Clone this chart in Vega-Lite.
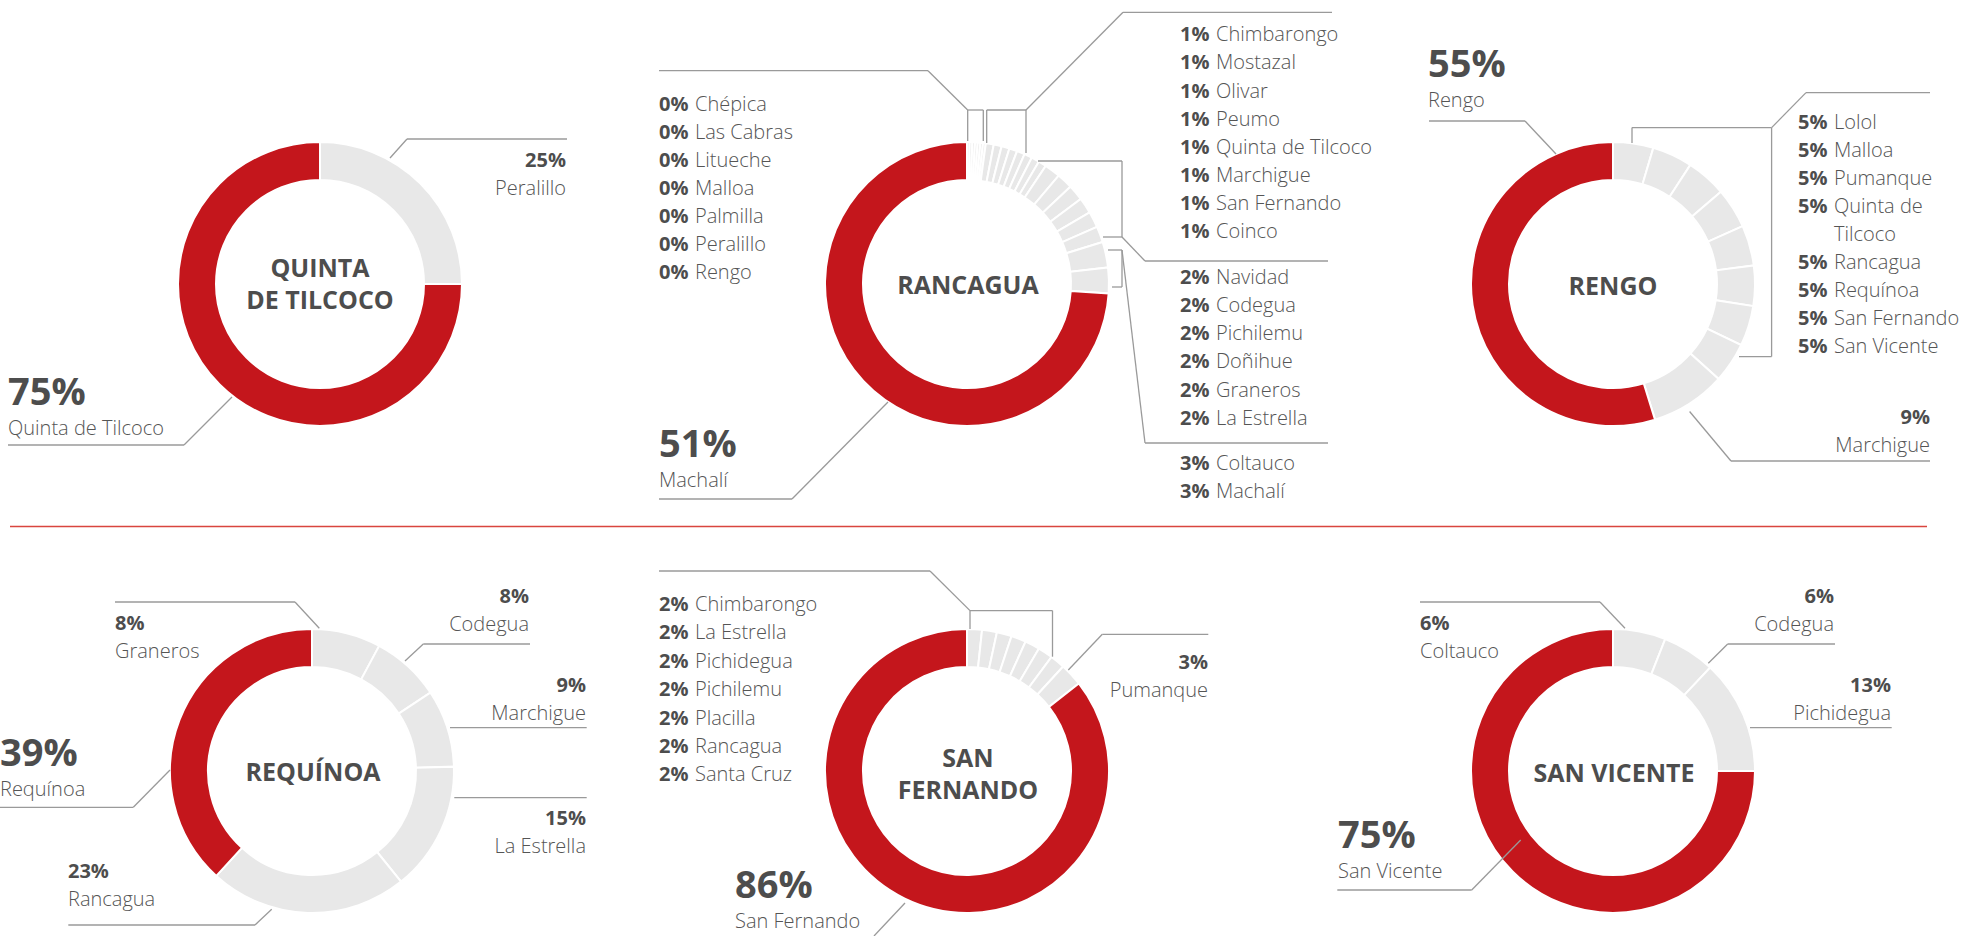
{
  "$schema": "https://vega.github.io/schema/vega-lite/v6.json",
  "width": 1961,
  "height": 936,
  "padding": 0,
  "autosize": {"type": "none"},
  "background": "white",
  "config": {"view": {"stroke": null}},
  "datasets": {
    "centers": [
      {"chart": "Quinta de Tilcoco", "x": 320, "y": 284},
      {"chart": "Rancagua", "x": 967, "y": 284},
      {"chart": "Rengo", "x": 1613, "y": 284},
      {"chart": "Requínoa", "x": 312, "y": 771},
      {"chart": "San Fernando", "x": 967, "y": 771},
      {"chart": "San Vicente", "x": 1613, "y": 771}
    ],
    "slices": [
      {"chart": "Quinta de Tilcoco", "k": 1, "name": "Peralillo", "v": 25, "grp": "other"},
      {"chart": "Quinta de Tilcoco", "k": 2, "name": "Quinta de Tilcoco", "v": 75, "grp": "self"},
      {"chart": "Rancagua", "k": 1, "name": "Chépica", "v": 0.3, "grp": "other"},
      {"chart": "Rancagua", "k": 2, "name": "Las Cabras", "v": 0.3, "grp": "other"},
      {"chart": "Rancagua", "k": 3, "name": "Litueche", "v": 0.3, "grp": "other"},
      {"chart": "Rancagua", "k": 4, "name": "Malloa", "v": 0.3, "grp": "other"},
      {"chart": "Rancagua", "k": 5, "name": "Palmilla", "v": 0.3, "grp": "other"},
      {"chart": "Rancagua", "k": 6, "name": "Peralillo", "v": 0.3, "grp": "other"},
      {"chart": "Rancagua", "k": 7, "name": "Rengo", "v": 0.3, "grp": "other"},
      {"chart": "Rancagua", "k": 8, "name": "Chimbarongo", "v": 0.9, "grp": "other"},
      {"chart": "Rancagua", "k": 9, "name": "Mostazal", "v": 0.9, "grp": "other"},
      {"chart": "Rancagua", "k": 10, "name": "Olivar", "v": 0.9, "grp": "other"},
      {"chart": "Rancagua", "k": 11, "name": "Peumo", "v": 0.9, "grp": "other"},
      {"chart": "Rancagua", "k": 12, "name": "Quinta de Tilcoco", "v": 0.9, "grp": "other"},
      {"chart": "Rancagua", "k": 13, "name": "Marchigue", "v": 0.9, "grp": "other"},
      {"chart": "Rancagua", "k": 14, "name": "San Fernando", "v": 0.9, "grp": "other"},
      {"chart": "Rancagua", "k": 15, "name": "Coinco", "v": 0.9, "grp": "other"},
      {"chart": "Rancagua", "k": 16, "name": "Navidad", "v": 1.8, "grp": "other"},
      {"chart": "Rancagua", "k": 17, "name": "Codegua", "v": 1.8, "grp": "other"},
      {"chart": "Rancagua", "k": 18, "name": "Pichilemu", "v": 1.8, "grp": "other"},
      {"chart": "Rancagua", "k": 19, "name": "Doñihue", "v": 1.8, "grp": "other"},
      {"chart": "Rancagua", "k": 20, "name": "Graneros", "v": 1.8, "grp": "other"},
      {"chart": "Rancagua", "k": 21, "name": "La Estrella", "v": 1.8, "grp": "other"},
      {"chart": "Rancagua", "k": 22, "name": "Coltauco", "v": 2.9, "grp": "other"},
      {"chart": "Rancagua", "k": 23, "name": "Machalí", "v": 2.9, "grp": "other"},
      {"chart": "Rancagua", "k": 24, "name": "Rancagua", "v": 73.5, "grp": "self"},
      {"chart": "Rengo", "k": 1, "name": "Lolol", "v": 4.6, "grp": "other"},
      {"chart": "Rengo", "k": 2, "name": "Malloa", "v": 4.6, "grp": "other"},
      {"chart": "Rengo", "k": 3, "name": "Pumanque", "v": 4.6, "grp": "other"},
      {"chart": "Rengo", "k": 4, "name": "Quinta de Tilcoco", "v": 4.6, "grp": "other"},
      {"chart": "Rengo", "k": 5, "name": "Rancagua", "v": 4.6, "grp": "other"},
      {"chart": "Rengo", "k": 6, "name": "Requínoa", "v": 4.6, "grp": "other"},
      {"chart": "Rengo", "k": 7, "name": "San Fernando", "v": 4.6, "grp": "other"},
      {"chart": "Rengo", "k": 8, "name": "San Vicente", "v": 4.6, "grp": "other"},
      {"chart": "Rengo", "k": 9, "name": "Marchigue", "v": 8.6, "grp": "other"},
      {"chart": "Rengo", "k": 10, "name": "Rengo", "v": 55, "grp": "self"},
      {"chart": "Requínoa", "k": 1, "name": "Graneros", "v": 8, "grp": "other"},
      {"chart": "Requínoa", "k": 2, "name": "Codegua", "v": 8, "grp": "other"},
      {"chart": "Requínoa", "k": 3, "name": "Marchigue", "v": 9, "grp": "other"},
      {"chart": "Requínoa", "k": 4, "name": "La Estrella", "v": 15, "grp": "other"},
      {"chart": "Requínoa", "k": 5, "name": "Rancagua", "v": 23, "grp": "other"},
      {"chart": "Requínoa", "k": 6, "name": "Requínoa", "v": 39, "grp": "self"},
      {"chart": "San Fernando", "k": 1, "name": "Chimbarongo", "v": 1.7, "grp": "other"},
      {"chart": "San Fernando", "k": 2, "name": "La Estrella", "v": 1.7, "grp": "other"},
      {"chart": "San Fernando", "k": 3, "name": "Pichidegua", "v": 1.7, "grp": "other"},
      {"chart": "San Fernando", "k": 4, "name": "Pichilemu", "v": 1.7, "grp": "other"},
      {"chart": "San Fernando", "k": 5, "name": "Placilla", "v": 1.7, "grp": "other"},
      {"chart": "San Fernando", "k": 6, "name": "Rancagua", "v": 1.7, "grp": "other"},
      {"chart": "San Fernando", "k": 7, "name": "Santa Cruz", "v": 1.7, "grp": "other"},
      {"chart": "San Fernando", "k": 8, "name": "Pumanque", "v": 2.6, "grp": "other"},
      {"chart": "San Fernando", "k": 9, "name": "San Fernando", "v": 86, "grp": "self"},
      {"chart": "San Vicente", "k": 1, "name": "Coltauco", "v": 6, "grp": "other"},
      {"chart": "San Vicente", "k": 2, "name": "Codegua", "v": 6, "grp": "other"},
      {"chart": "San Vicente", "k": 3, "name": "Pichidegua", "v": 13, "grp": "other"},
      {"chart": "San Vicente", "k": 4, "name": "San Vicente", "v": 75, "grp": "self"}
    ],
    "titles": [
      {"text": "QUINTA", "x": 320, "y": 269},
      {"text": "DE TILCOCO", "x": 320, "y": 301},
      {"text": "RANCAGUA", "x": 968, "y": 286},
      {"text": "RENGO", "x": 1613, "y": 287},
      {"text": "REQUÍNOA", "x": 313, "y": 773},
      {"text": "SAN", "x": 968, "y": 759},
      {"text": "FERNANDO", "x": 968, "y": 791},
      {"text": "SAN VICENTE", "x": 1614, "y": 774}
    ],
    "lists": [
      {"pct": "0%", "name": "Chépica", "x": 659, "y": 105},
      {"pct": "0%", "name": "Las Cabras", "x": 659, "y": 133},
      {"pct": "0%", "name": "Litueche", "x": 659, "y": 161},
      {"pct": "0%", "name": "Malloa", "x": 659, "y": 189},
      {"pct": "0%", "name": "Palmilla", "x": 659, "y": 217},
      {"pct": "0%", "name": "Peralillo", "x": 659, "y": 245},
      {"pct": "0%", "name": "Rengo", "x": 659, "y": 273},
      {"pct": "1%", "name": "Chimbarongo", "x": 1180, "y": 35},
      {"pct": "1%", "name": "Mostazal", "x": 1180, "y": 63.3},
      {"pct": "1%", "name": "Olivar", "x": 1180, "y": 91.7},
      {"pct": "1%", "name": "Peumo", "x": 1180, "y": 120},
      {"pct": "1%", "name": "Quinta de Tilcoco", "x": 1180, "y": 148},
      {"pct": "1%", "name": "Marchigue", "x": 1180, "y": 176},
      {"pct": "1%", "name": "San Fernando", "x": 1180, "y": 204},
      {"pct": "1%", "name": "Coinco", "x": 1180, "y": 232},
      {"pct": "2%", "name": "Navidad", "x": 1180, "y": 277.5},
      {"pct": "2%", "name": "Codegua", "x": 1180, "y": 305.8},
      {"pct": "2%", "name": "Pichilemu", "x": 1180, "y": 334},
      {"pct": "2%", "name": "Doñihue", "x": 1180, "y": 362.3},
      {"pct": "2%", "name": "Graneros", "x": 1180, "y": 390.6},
      {"pct": "2%", "name": "La Estrella", "x": 1180, "y": 419},
      {"pct": "3%", "name": "Coltauco", "x": 1180, "y": 464},
      {"pct": "3%", "name": "Machalí", "x": 1180, "y": 492.3},
      {"pct": "5%", "name": "Lolol", "x": 1798, "y": 122.5},
      {"pct": "5%", "name": "Malloa", "x": 1798, "y": 150.5},
      {"pct": "5%", "name": "Pumanque", "x": 1798, "y": 178.5},
      {"pct": "5%", "name": "Quinta de", "x": 1798, "y": 206.5},
      {"pct": "", "name": "Tilcoco", "x": 1798, "y": 234.5},
      {"pct": "5%", "name": "Rancagua", "x": 1798, "y": 262.5},
      {"pct": "5%", "name": "Requínoa", "x": 1798, "y": 290.5},
      {"pct": "5%", "name": "San Fernando", "x": 1798, "y": 318.5},
      {"pct": "5%", "name": "San Vicente", "x": 1798, "y": 346.5},
      {"pct": "2%", "name": "Chimbarongo", "x": 659, "y": 605},
      {"pct": "2%", "name": "La Estrella", "x": 659, "y": 633.4},
      {"pct": "2%", "name": "Pichidegua", "x": 659, "y": 661.8},
      {"pct": "2%", "name": "Pichilemu", "x": 659, "y": 690.2},
      {"pct": "2%", "name": "Placilla", "x": 659, "y": 718.6},
      {"pct": "2%", "name": "Rancagua", "x": 659, "y": 747},
      {"pct": "2%", "name": "Santa Cruz", "x": 659, "y": 775.4}
    ],
    "callouts": [
      {"pct": "25%", "name": "Peralillo", "x": 566, "y": 167, "side": "right", "size": "small"},
      {"pct": "75%", "name": "Quinta de Tilcoco", "x": 8, "y": 405, "side": "left", "size": "big"},
      {"pct": "51%", "name": "Machalí", "x": 659, "y": 457, "side": "left", "size": "big"},
      {"pct": "55%", "name": "Rengo", "x": 1428, "y": 77, "side": "left", "size": "big"},
      {"pct": "9%", "name": "Marchigue", "x": 1930, "y": 424, "side": "right", "size": "small"},
      {"pct": "8%", "name": "Graneros", "x": 115, "y": 630, "side": "left", "size": "small"},
      {"pct": "8%", "name": "Codegua", "x": 529, "y": 603, "side": "right", "size": "small"},
      {"pct": "9%", "name": "Marchigue", "x": 586, "y": 692, "side": "right", "size": "small"},
      {"pct": "15%", "name": "La Estrella", "x": 586, "y": 825, "side": "right", "size": "small"},
      {"pct": "23%", "name": "Rancagua", "x": 68, "y": 878, "side": "left", "size": "small"},
      {"pct": "39%", "name": "Requínoa", "x": 0, "y": 766, "side": "left", "size": "big"},
      {"pct": "3%", "name": "Pumanque", "x": 1208, "y": 669, "side": "right", "size": "small"},
      {"pct": "86%", "name": "San Fernando", "x": 735, "y": 898, "side": "left", "size": "big"},
      {"pct": "6%", "name": "Coltauco", "x": 1420, "y": 630, "side": "left", "size": "small"},
      {"pct": "6%", "name": "Codegua", "x": 1834, "y": 603, "side": "right", "size": "small"},
      {"pct": "13%", "name": "Pichidegua", "x": 1891, "y": 692, "side": "right", "size": "small"},
      {"pct": "75%", "name": "San Vicente", "x": 1338, "y": 848, "side": "left", "size": "big"}
    ],
    "leaders": [
      {"kind": "leader", "x": 407, "y": 139, "x2": 567, "y2": 139},
      {"kind": "leader", "x": 407, "y": 139, "x2": 390, "y2": 158},
      {"kind": "leader", "x": 8, "y": 445, "x2": 184, "y2": 445},
      {"kind": "leader", "x": 184, "y": 445, "x2": 232, "y2": 397},
      {"kind": "leader", "x": 659, "y": 70.7, "x2": 928, "y2": 70.7},
      {"kind": "leader", "x": 928, "y": 70.7, "x2": 967.7, "y2": 110},
      {"kind": "leader", "x": 967.7, "y": 110, "x2": 983.3, "y2": 110},
      {"kind": "leader", "x": 967.7, "y": 110, "x2": 967.7, "y2": 141},
      {"kind": "leader", "x": 983.3, "y": 110, "x2": 983.3, "y2": 141},
      {"kind": "leader", "x": 986.7, "y": 110, "x2": 1026, "y2": 110},
      {"kind": "leader", "x": 986.7, "y": 110, "x2": 986.7, "y2": 143},
      {"kind": "leader", "x": 1026, "y": 110, "x2": 1026, "y2": 153},
      {"kind": "leader", "x": 1026, "y": 110, "x2": 1123, "y2": 12.3},
      {"kind": "leader", "x": 1123, "y": 12.3, "x2": 1332, "y2": 12.3},
      {"kind": "leader", "x": 1038, "y": 161, "x2": 1122, "y2": 161},
      {"kind": "leader", "x": 1122, "y": 161, "x2": 1122, "y2": 237},
      {"kind": "leader", "x": 1103, "y": 237, "x2": 1122, "y2": 237},
      {"kind": "leader", "x": 1122, "y": 237, "x2": 1145, "y2": 261},
      {"kind": "leader", "x": 1145, "y": 261, "x2": 1328, "y2": 261},
      {"kind": "leader", "x": 1108, "y": 250, "x2": 1122, "y2": 250},
      {"kind": "leader", "x": 1112, "y": 287, "x2": 1122, "y2": 287},
      {"kind": "leader", "x": 1122, "y": 250, "x2": 1122, "y2": 287},
      {"kind": "leader", "x": 1122, "y": 250, "x2": 1145, "y2": 443},
      {"kind": "leader", "x": 1145, "y": 443, "x2": 1328, "y2": 443},
      {"kind": "leader", "x": 659, "y": 499, "x2": 792, "y2": 499},
      {"kind": "leader", "x": 792, "y": 499, "x2": 888, "y2": 402},
      {"kind": "leader", "x": 1429, "y": 121, "x2": 1525, "y2": 121},
      {"kind": "leader", "x": 1525, "y": 121, "x2": 1556, "y2": 154},
      {"kind": "leader", "x": 1806, "y": 92.6, "x2": 1930, "y2": 92.6},
      {"kind": "leader", "x": 1806, "y": 92.6, "x2": 1771.6, "y2": 127.6},
      {"kind": "leader", "x": 1632, "y": 127.6, "x2": 1771.6, "y2": 127.6},
      {"kind": "leader", "x": 1632, "y": 127.6, "x2": 1632, "y2": 143},
      {"kind": "leader", "x": 1771.6, "y": 127.6, "x2": 1771.6, "y2": 356.6},
      {"kind": "leader", "x": 1739, "y": 356.6, "x2": 1771.6, "y2": 356.6},
      {"kind": "leader", "x": 1731, "y": 461, "x2": 1930, "y2": 461},
      {"kind": "leader", "x": 1731, "y": 461, "x2": 1689.6, "y2": 411.5},
      {"kind": "leader", "x": 115, "y": 602, "x2": 295, "y2": 602},
      {"kind": "leader", "x": 295, "y": 602, "x2": 319.3, "y2": 628.3},
      {"kind": "leader", "x": 423.3, "y": 644, "x2": 530, "y2": 644},
      {"kind": "leader", "x": 423.3, "y": 644, "x2": 405, "y2": 661},
      {"kind": "leader", "x": 450, "y": 727.7, "x2": 586.7, "y2": 727.7},
      {"kind": "leader", "x": 454.3, "y": 797.7, "x2": 586.7, "y2": 797.7},
      {"kind": "leader", "x": 68.3, "y": 925, "x2": 255, "y2": 925},
      {"kind": "leader", "x": 255, "y": 925, "x2": 271.7, "y2": 909.3},
      {"kind": "leader", "x": 0, "y": 807.3, "x2": 133.3, "y2": 807.3},
      {"kind": "leader", "x": 133.3, "y": 807.3, "x2": 170, "y2": 770},
      {"kind": "leader", "x": 659, "y": 571, "x2": 930, "y2": 571},
      {"kind": "leader", "x": 930, "y": 571, "x2": 970, "y2": 610.6},
      {"kind": "leader", "x": 970, "y": 610.6, "x2": 1052.5, "y2": 610.6},
      {"kind": "leader", "x": 970, "y": 610.6, "x2": 970, "y2": 629},
      {"kind": "leader", "x": 1052.5, "y": 610.6, "x2": 1052.5, "y2": 656.7},
      {"kind": "leader", "x": 1102.3, "y": 634.3, "x2": 1208.3, "y2": 634.3},
      {"kind": "leader", "x": 1102.3, "y": 634.3, "x2": 1068.3, "y2": 670},
      {"kind": "leader", "x": 905, "y": 903, "x2": 874, "y2": 936},
      {"kind": "leader", "x": 1420, "y": 602, "x2": 1600, "y2": 602},
      {"kind": "leader", "x": 1600, "y": 602, "x2": 1625, "y2": 628.3},
      {"kind": "leader", "x": 1727.7, "y": 644, "x2": 1835, "y2": 644},
      {"kind": "leader", "x": 1727.7, "y": 644, "x2": 1708.3, "y2": 663.3},
      {"kind": "leader", "x": 1750, "y": 727.7, "x2": 1891.7, "y2": 727.7},
      {"kind": "leader", "x": 1337.3, "y": 890, "x2": 1471.7, "y2": 890},
      {"kind": "leader", "x": 1471.7, "y": 890, "x2": 1520.7, "y2": 840},
      {"kind": "divider", "x": 10, "y": 526.5, "x2": 1927, "y2": 526.5}
    ]
  },
  "encoding": {
    "x": {"field": "x", "type": "quantitative", "scale": {"domain": [0, 1961], "nice": false, "zero": false}, "axis": null},
    "y": {"field": "y", "type": "quantitative", "scale": {"domain": [0, 936], "nice": false, "zero": false, "reverse": true}, "axis": null}
  },
  "layer": [
    {
      "data": {"name": "slices"},
      "transform": [
        {"stack": "v", "groupby": ["chart"], "sort": [{"field": "k", "order": "ascending"}], "offset": "normalize", "as": ["t0", "t1"]},
        {"lookup": "chart", "from": {"data": {"name": "centers"}, "key": "chart", "fields": ["x", "y"]}}
      ],
      "mark": {"type": "arc", "radius": 142, "radius2": 104, "stroke": "white", "strokeWidth": 2},
      "encoding": {
        "theta": {"field": "t0", "type": "quantitative", "scale": {"domain": [0, 1], "range": [0, 6.283185307179586]}, "stack": null},
        "theta2": {"field": "t1"},
        "color": {"field": "grp", "type": "nominal", "scale": {"domain": ["other", "self"], "range": ["#e8e8e8", "#c4161c"]}, "legend": null}
      }
    },
    {
      "data": {"name": "leaders"},
      "transform": [{"filter": "datum.kind === 'leader'"}],
      "mark": {"type": "rule", "color": "#9a9a9a", "strokeWidth": 1.3},
      "encoding": {"x2": {"field": "x2"}, "y2": {"field": "y2"}}
    },
    {
      "data": {"name": "leaders"},
      "transform": [{"filter": "datum.kind === 'divider'"}],
      "mark": {"type": "rule", "color": "#d9453f", "strokeWidth": 1.6},
      "encoding": {"x2": {"field": "x2"}, "y2": {"field": "y2"}}
    },
    {
      "data": {"name": "titles"},
      "mark": {"type": "text", "font": "Open Sans", "fontWeight": "bold", "fontSize": 25, "color": "#4d4d4d", "align": "center", "baseline": "middle"},
      "encoding": {"text": {"field": "text"}}
    },
    {
      "data": {"name": "lists"},
      "mark": {"type": "text", "font": "Open Sans", "fontWeight": "bold", "fontSize": 20, "color": "#4d4d4d", "align": "left", "baseline": "middle"},
      "encoding": {"text": {"field": "pct"}}
    },
    {
      "data": {"name": "lists"},
      "mark": {"type": "text", "font": "Open Sans", "fontWeight": 300, "fontSize": 20, "color": "#555555", "align": "left", "baseline": "middle", "dx": 36},
      "encoding": {"text": {"field": "name"}}
    },
    {
      "data": {"name": "callouts"},
      "transform": [{"filter": "datum.size === 'small' && datum.side === 'right'"}],
      "mark": {"type": "text", "font": "Open Sans", "fontWeight": "bold", "fontSize": 20, "color": "#4d4d4d", "align": "right", "baseline": "alphabetic"},
      "encoding": {"text": {"field": "pct"}}
    },
    {
      "data": {"name": "callouts"},
      "transform": [{"filter": "datum.size === 'small' && datum.side === 'right'"}],
      "mark": {"type": "text", "font": "Open Sans", "fontWeight": 300, "fontSize": 20, "color": "#555555", "align": "right", "baseline": "alphabetic", "dy": 28},
      "encoding": {"text": {"field": "name"}}
    },
    {
      "data": {"name": "callouts"},
      "transform": [{"filter": "datum.size === 'small' && datum.side === 'left'"}],
      "mark": {"type": "text", "font": "Open Sans", "fontWeight": "bold", "fontSize": 20, "color": "#4d4d4d", "align": "left", "baseline": "alphabetic"},
      "encoding": {"text": {"field": "pct"}}
    },
    {
      "data": {"name": "callouts"},
      "transform": [{"filter": "datum.size === 'small' && datum.side === 'left'"}],
      "mark": {"type": "text", "font": "Open Sans", "fontWeight": 300, "fontSize": 20, "color": "#555555", "align": "left", "baseline": "alphabetic", "dy": 28},
      "encoding": {"text": {"field": "name"}}
    },
    {
      "data": {"name": "callouts"},
      "transform": [{"filter": "datum.size === 'big'"}],
      "mark": {"type": "text", "font": "Open Sans", "fontWeight": "bold", "fontSize": 38, "color": "#4d4d4d", "align": "left", "baseline": "alphabetic"},
      "encoding": {"text": {"field": "pct"}}
    },
    {
      "data": {"name": "callouts"},
      "transform": [{"filter": "datum.size === 'big'"}],
      "mark": {"type": "text", "font": "Open Sans", "fontWeight": 300, "fontSize": 20, "color": "#555555", "align": "left", "baseline": "alphabetic", "dy": 30},
      "encoding": {"text": {"field": "name"}}
    }
  ]
}
